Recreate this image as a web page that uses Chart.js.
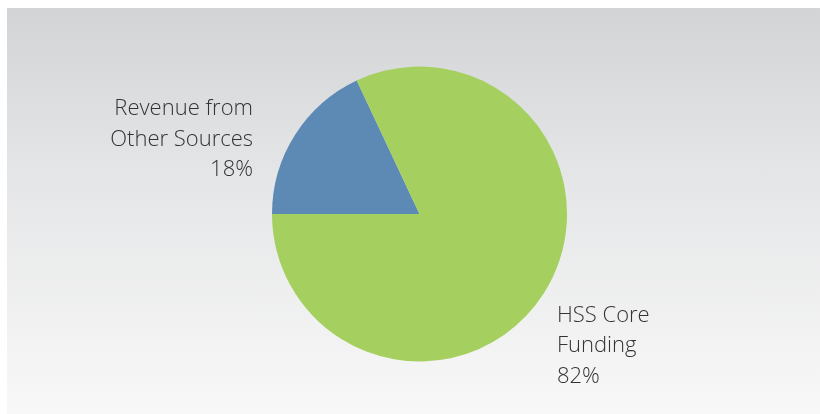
<!DOCTYPE html>
<html>
<head>
<meta charset="utf-8">
<script src="https://cdn.jsdelivr.net/npm/chart.js@4.4.1/dist/chart.umd.min.js"></script>
<style>
  html, body { margin: 0; padding: 0; background: #ffffff; }
  #wrap { position: relative; width: 820px; height: 414px; overflow: hidden; }
  #panel { position: absolute; left: 7px; top: 8px; width: 813px; height: 406px;
           background: linear-gradient(to bottom, #d3d4d6 0%, #e6e7e8 45%, #f8f8f8 100%); }
  #c { position: absolute; left: 0; top: 0; }
</style>
</head>
<body>
<div id="wrap">
  <div id="panel"></div>
  <canvas id="c" width="820" height="414"></canvas>
</div>
<script>
const categories = ["Revenue from Other Sources", "HSS Core Funding"];
const labelLines = [["Revenue from", "Other Sources", "18%"], ["HSS Core", "Funding", "82%"]];
const values = [18, 82];
const colors = ["#5d89b5", "#a5cf5f"];

const labelPlugin = {
  id: 'outerLabels',
  afterDatasetsDraw(chart) {
    const ctx = chart.ctx;
    const meta = chart.getDatasetMeta(0);
    const arc = meta.data[0];
    const cx = arc.x, cy = arc.y, r = arc.outerRadius;
    ctx.save();
    ctx.fillStyle = '#333333';
    ctx.font = '300 22px "Open Sans", "Noto Sans", sans-serif';
    ctx.textBaseline = 'alphabetic';
    const lh = 30.5;
    ctx.textAlign = 'right';
    let bx = cx - r * 1.129, by = cy - r * 0.67;
    labelLines[0].forEach((t, i) => ctx.fillText(t, bx, by + i * lh));
    ctx.textAlign = 'left';
    bx = cx + r * 0.932; by = cy + r * 0.73;
    labelLines[1].forEach((t, i) => ctx.fillText(t, bx, by + i * lh));
    ctx.restore();
  }
};

new Chart(document.getElementById('c'), {
  type: 'pie',
  data: {
    labels: categories,
    datasets: [{ data: values, backgroundColor: colors, borderWidth: 0 }]
  },
  options: {
    responsive: false,
    animation: false,
    rotation: 270,
    layout: { padding: { top: 66.5, bottom: 52.5, left: 200, right: 181 } },
    plugins: { legend: { display: false }, tooltip: { enabled: false } }
  },
  plugins: [labelPlugin]
});
</script>
</body>
</html>
